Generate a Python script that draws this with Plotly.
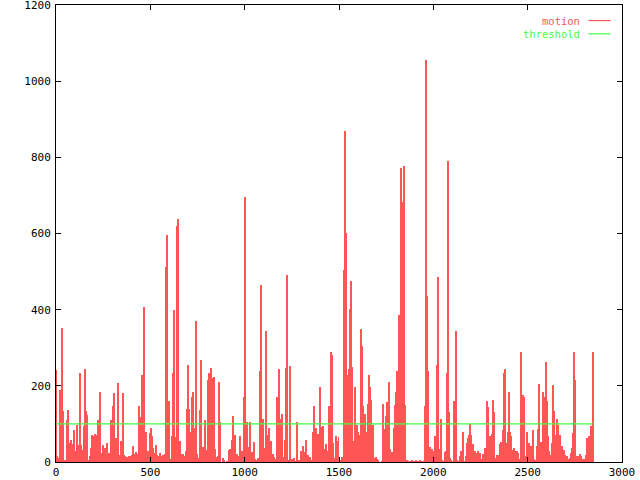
import plotly.graph_objects as go

# ---- data (one motion value per rendered frame column) ----
motion = [
    242, 15, 10, 10, 190, 76, 352, 133, 5, 3,
    3, 111, 137, 50, 35, 59, 48, 44, 85, 19,
    28, 98, 28, 44, 235, 44, 32, 28, 94, 245,
    133, 124, 6, 6, 15, 38, 70, 67, 59, 73,
    50, 72, 111, 89, 185, 24, 10, 45, 24, 37,
    10, 50, 24, 13, 24, 111, 28, 148, 181, 37,
    63, 19, 207, 19, 10, 54, 19, 181, 19, 15,
    10, 12, 8, 15, 6, 17, 19, 43, 15, 22,
    25, 19, 22, 148, 76, 117, 229, 50, 408, 67,
    79, 19, 28, 17, 76, 89, 67, 38, 24, 10,
    45, 19, 15, 6, 24, 15, 6, 19, 15, 20,
    513, 597, 22, 161, 8, 3, 67, 233, 400, 3,
    66, 620, 638, 5, 56, 2, 20, 22, 10, 17,
    28, 140, 255, 140, 27, 78, 172, 185, 5, 88,
    371, 20, 10, 8, 137, 269, 22, 40, 40, 111,
    32, 10, 216, 235, 0, 247, 220, 174, 224, 35,
    6, 13, 17, 211, 106, 0, 0, 10, 6, 0,
    0, 2, 2, 32, 35, 0, 58, 120, 5, 72,
    20, 20, 13,
    16, 69, 5, 30, 30, 170, 697, 30, 104, 40,
    30, 106, 27, 27, 0, 53, 8, 5, 3, 10,
    2, 240, 465, 25, 114, 36, 34, 343, 6, 72,
    89, 5, 55, 13, 21, 13, 9, 9, 170, 30,
    245, 114, 78, 127, 13, 0, 58, 248, 492, 3,
    3, 251, 3, 8, 0, 10, 2, 0, 104, 1,
    6, 0, 30, 12, 42, 27, 13, 58, 9, 18,
    0, 13, 3, 3, 80, 148, 40, 88, 38, 74,
    30, 196, 92, 27, 95, 13, 34, 46, 20, 30,
    147, 147, 288, 280, 49, 10, 10, 68, 55, 66,
    5, 5, 12, 9, 505, 869, 601, 229, 12, 245,
    402, 476, 250, 55, 6, 196, 17, 98, 80, 30,
    72, 350, 305, 147, 58, 127, 78, 69, 153, 229,
    196, 163, 15, 97, 4, 10, 12, 8, 4, 0,
    0, 0, 2, 153, 86, 81, 120, 157, 123, 209,
    34, 12, 27, 15, 89, 150, 184, 239, 92, 387,
    10, 771, 684, 63, 778, 150, 0, 4, 2, 2,
    2, 2, 4, 2, 2, 2, 4, 2, 2, 2,
    4, 2, 2, 2, 0, 148, 1056, 435, 238, 4,
    40, 8, 34, 27, 30, 68, 4, 255, 487, 4,
    34, 114, 4, 2, 2, 27, 30, 234, 791, 130,
    10, 3, 2, 0, 159, 13, 343, 6, 0, 2,
    15, 30, 25, 78, 2, 0, 17, 50, 63, 72,
    101, 70, 25, 48, 12,
    30, 17, 24, 30, 24, 24, 8, 4, 22, 22,
    38, 35, 161, 144, 4, 67, 10, 74, 164, 131,
    10, 8, 19, 19, 19, 48, 52, 4, 85, 234,
    245, 50, 32, 78, 184, 78, 67, 4, 32, 37,
    15, 30, 28, 24, 6, 9, 290, 15, 177, 172,
    15, 6, 80, 15, 50, 6, 41, 15, 85, 8,
    4, 6, 43, 87, 206, 24, 52, 50, 183, 172,
    162, 262, 161, 67, 30, 19, 8, 50, 203, 135,
    72, 37, 114, 98, 15, 72, 28, 41, 24, 32,
    19, 10, 15, 6, 8, 10, 24, 37, 76, 290,
    216, 6, 17, 17, 17, 22, 15, 8, 4, 8,
    2, 19, 63, 13, 69, 43, 95, 82, 290,
]
threshold_value = 100
x_ticks = [0, 500, 1000, 1500, 2000, 2500, 3000]
y_ticks = [0, 200, 400, 600, 800, 1000, 1200]
series_names = ["motion", "threshold"]

FRAME_STEP = 3000 / 565.0
frames = [i * FRAME_STEP for i in range(len(motion))]

RED = "#ff5555"
GREEN = "#44ff44"
FONT = "DejaVu Sans Mono"

fig = go.Figure()
fig.add_trace(go.Bar(
    x=frames, y=motion, width=FRAME_STEP,
    marker=dict(color=RED, line=dict(width=0)),
    name=series_names[0], showlegend=False,
))
fig.add_trace(go.Scatter(
    x=[frames[0], frames[-1]], y=[threshold_value, threshold_value],
    mode="lines", line=dict(color=GREEN, width=1.2),
    name=series_names[1], showlegend=False,
))

axis_common = dict(
    showline=True, linecolor="black", linewidth=1, mirror="ticks",
    ticks="inside", ticklen=5, tickcolor="black", tickwidth=1,
    showgrid=False, zeroline=False, automargin=False,
    ticklabeloverflow="allow",
    tickfont=dict(family=FONT, size=11, color="black"),
)
fig.update_xaxes(range=[0, 3000], tickvals=x_ticks, ticklabelstandoff=0, **axis_common)
fig.update_yaxes(range=[0, 1200], tickvals=y_ticks, ticklabelstandoff=2, **axis_common)

# gnuplot-style key: text right-aligned, sample line to its right
key_rows = [(series_names[0], RED, 0.966), (series_names[1], GREEN, 0.937)]
for name, col, yy in key_rows:
    fig.add_annotation(xref="paper", yref="paper", x=0.927, y=yy,
                       text=name, showarrow=False, xanchor="right", yanchor="middle",
                       borderpad=0,
                       font=dict(family=FONT, size=10.5, color=col))
    fig.add_shape(type="line", xref="paper", yref="paper",
                  x0=0.941, x1=0.980, y0=yy, y1=yy,
                  line=dict(color=col, width=1.2))

fig.update_layout(
    width=640, height=480,
    margin=dict(l=56, r=18, t=5, b=18, autoexpand=False),
    paper_bgcolor="white", plot_bgcolor="white",
    bargap=0, showlegend=False,
)
fig.write_html("out.html",
               config={"displayModeBar": False},
               post_script="document.body.style.margin='0';document.body.style.overflow='hidden';")
